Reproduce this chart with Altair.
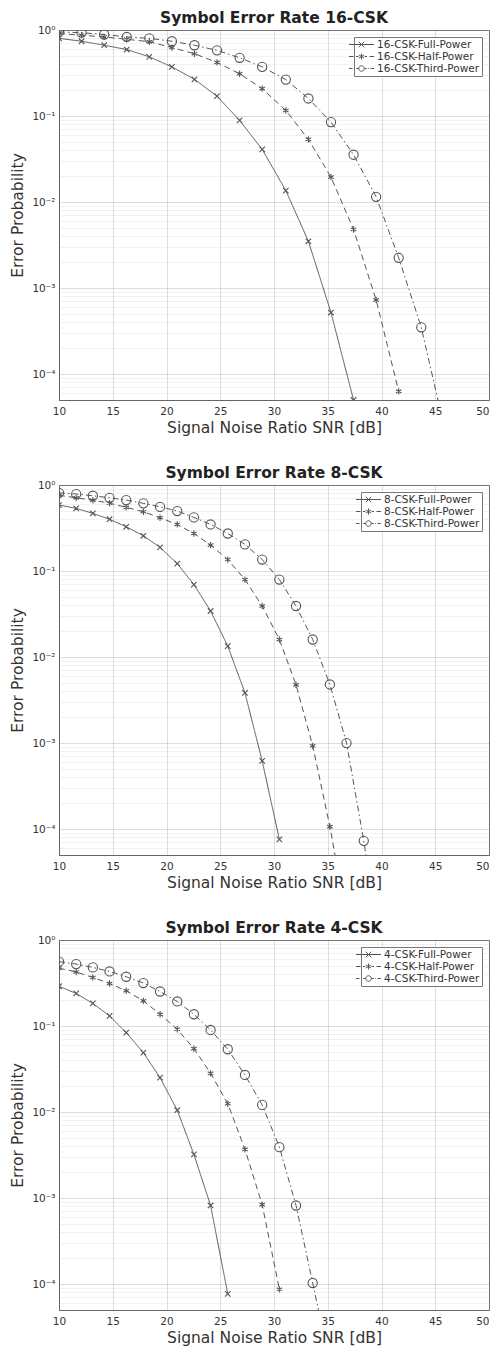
import altair as alt
import pandas as pd

# ---------------- data ----------------
SNR_16 = [10.0, 12.1, 14.2, 16.3, 18.4, 20.5, 22.6, 24.7, 26.8, 28.9,
          31.1, 33.2, 35.3, 37.4, 39.5, 41.6, 43.7, 45.8]
SNR_8 = [10.0, 11.6, 13.15, 14.7, 16.25, 17.85, 19.4, 21.0, 22.55, 24.1,
         25.7, 27.3, 28.9, 30.5, 32.05, 33.6, 35.2, 36.75, 38.35, 39.9]
SNR_4 = SNR_8

P16_FULL = [0.80, 0.74, 0.665, 0.593, 0.488, 0.373, 0.267, 0.170, 0.089, 0.041,
            0.0136, 0.0035, 5.2e-4, 5.0e-5]
P16_HALF = [0.91, 0.87, 0.83, 0.78, 0.73, 0.625, 0.53, 0.42, 0.31, 0.208,
            0.116, 0.0535, 0.0195, 0.0048, 7.3e-4, 6.3e-5]
P16_THIRD = [0.95, 0.93, 0.887, 0.83, 0.80, 0.74, 0.665, 0.58, 0.475, 0.373,
             0.265, 0.16, 0.085, 0.0355, 0.0115, 0.00225, 3.5e-4, 2.5e-5]

P8_FULL = [0.585, 0.535, 0.468, 0.40, 0.327, 0.257, 0.188, 0.122, 0.0696, 0.0343,
           0.0134, 0.00383, 6.2e-4, 7.6e-5]
P8_HALF = [0.76, 0.71, 0.665, 0.615, 0.55, 0.489, 0.416, 0.348, 0.273, 0.20,
           0.136, 0.0796, 0.0392, 0.016, 0.00475, 9.3e-4, 1.07e-4, 9e-6]
P8_THIRD = [0.81, 0.785, 0.75, 0.71, 0.668, 0.612, 0.558, 0.498, 0.42, 0.348,
            0.273, 0.204, 0.136, 0.0796, 0.0392, 0.016, 0.0048, 1.0e-3, 7.3e-5, 4e-6]

P4_FULL = [0.29, 0.239, 0.183, 0.131, 0.084, 0.049, 0.0251, 0.0105, 0.00322, 8.2e-4,
           7.7e-5]
P4_HALF = [0.47, 0.425, 0.367, 0.312, 0.257, 0.196, 0.137, 0.0918, 0.0546, 0.0282,
           0.0125, 0.00368, 8.4e-4, 8.7e-5]
P4_THIRD = [0.56, 0.525, 0.48, 0.431, 0.374, 0.316, 0.252, 0.193, 0.137, 0.090,
            0.0537, 0.027, 0.0121, 0.00391, 8.2e-4, 1.03e-4, 1.2e-5]

PANELS = [
    ("Symbol Error Rate 16-CSK", "16-CSK", SNR_16, [P16_FULL, P16_HALF, P16_THIRD]),
    ("Symbol Error Rate 8-CSK", "8-CSK", SNR_8, [P8_FULL, P8_HALF, P8_THIRD]),
    ("Symbol Error Rate 4-CSK", "4-CSK", SNR_4, [P4_FULL, P4_HALF, P4_THIRD]),
]
SUFFIXES = ["Full-Power", "Half-Power", "Third-Power"]
X_TICKS = [10, 15, 20, 25, 30, 35, 40, 45, 50]
Y_DECADES = [1e-4, 1e-3, 1e-2, 1e-1, 1.0]
Y_MINOR_FACTORS = [2, 3, 4, 5, 6, 7, 8, 9]

# ---------------- styling ----------------
FONT = "DejaVu Sans"
GRAY = "#555555"
DASHES = [[1, 0], [6, 4], [6, 3, 1.5, 3]]
MARKERS = [
    "M-1,-1L1,1M-1,1L1,-1",                               # x
    "M0,-1L0,1M-0.87,-0.5L0.87,0.5M-0.87,0.5L0.87,-0.5",  # asterisk
    "circle",
]
MARKER_SIZES = [30, 40, 85]
# legend symbols: short line segment with the series marker (size 100 -> unit = 5px)
LEGEND_PATHS = [
    "M-2.5,0H2.5M-0.55,-0.55L0.55,0.55M-0.55,0.55L0.55,-0.55",
    "M-2.5,0H-1.6M-1.1,0H-0.6M0.6,0H1.1M1.6,0H2.5"
    "M0,-0.6L0,0.6M-0.52,-0.3L0.52,0.3M-0.52,0.3L0.52,-0.3",
    "M-2.5,0H-1.8M-1.5,0H-1.35M-1.05,0H-0.55M0.55,0H1.05M1.35,0H1.5M1.8,0H2.5"
    "M0.55,0A0.55,0.55 0 1,1 -0.55,0A0.55,0.55 0 1,1 0.55,0Z",
]

y_ticks = sorted(set([round(m * 10.0 ** e, 12) for e in range(-5, 1)
                      for m in [1] + Y_MINOR_FACTORS if 4.9e-5 <= m * 10.0 ** e <= 1.0]))
EXP = "log(datum.value)/LN10"
IS_DECADE = f"abs({EXP} - round({EXP})) < 1e-6"
SUP = {0: "10⁰", -1: "10⁻¹", -2: "10⁻²", -3: "10⁻³", -4: "10⁻⁴"}
label_expr = f"!({IS_DECADE}) ? '' : " + " : ".join(
    f"round({EXP}) == {k} ? '{v}'" for k, v in SUP.items()) + " : ''"

x_enc = alt.X("snr:Q", scale=alt.Scale(domain=[10, 50], nice=False, zero=False),
              axis=alt.Axis(title="Signal Noise Ratio SNR [dB]", values=X_TICKS,
                            labelFlush=False, ticks=False, labelPadding=6,
                            labelAlign={"condition": {"test": "datum.value >= 50", "value": "right"},
                                        "value": "center"},
                            titlePadding=3.5, gridOpacity=0.13))
y_enc = alt.Y("p:Q", scale=alt.Scale(type="log", domain=[5e-5, 1], nice=False),
              axis=alt.Axis(title="Error Probability", values=y_ticks,
                            labelExpr=label_expr, labelOverlap=False, ticks=False,
                            labelPadding=4, titlePadding=6, labelFlush=False,
                            gridOpacity={"condition": {"test": IS_DECADE, "value": 0.13},
                                         "value": 0.05}))


def panel(title, prefix, snr, series):
    labels = [f"{prefix}-{s}" for s in SUFFIXES]
    layers = []
    frames = []
    for i, vals in enumerate(series):
        df = pd.DataFrame({"snr": snr[:len(vals)], "p": vals, "series": labels[i]})
        frames.append(df)
        layers.append(alt.Chart(df).mark_line(clip=True, color=GRAY, strokeWidth=1,
                                              strokeDash=DASHES[i]).encode(x=x_enc, y=y_enc))
        layers.append(alt.Chart(df).mark_point(clip=True, shape=MARKERS[i], size=MARKER_SIZES[i],
                                               filled=False, color=GRAY, strokeWidth=1.1,
                                               opacity=1).encode(x=x_enc, y=y_enc))
    all_df = pd.concat(frames)
    legend_layer = alt.Chart(all_df).mark_point(clip=True, opacity=0, filled=False,
                                                color=GRAY).encode(
        x=x_enc, y=y_enc,
        shape=alt.Shape("series:N",
                        scale=alt.Scale(domain=labels, range=LEGEND_PATHS),
                        legend=alt.Legend(title=None, orient="top-right", offset=7,
                                          padding=2, strokeColor="#777777",
                                          fillColor="white", labelFont=FONT,
                                          labelFontSize=10.5, labelColor="#333333",
                                          symbolSize=100, symbolStrokeColor=GRAY,
                                          symbolStrokeWidth=1, symbolOpacity=1,
                                          symbolFillColor="transparent",
                                          labelOffset=10, rowPadding=1,
                                          labelLimit=200)))
    layers.append(legend_layer)
    return alt.layer(*layers).properties(
        width=430, height=370,
        title=alt.TitleParams(title, font=FONT, fontSize=15.5, fontWeight="bold",
                              color="#222222", anchor="middle", offset=-1.5))


charts = [panel(*p) for p in PANELS]
chart = alt.vconcat(*charts, spacing=29).resolve_scale(shape="independent").resolve_legend(
    shape="independent").properties(padding={"left": 2, "top": 2, "right": 0, "bottom": 0}).configure_axis(
    labelFont=FONT, titleFont=FONT, labelFontSize=10.5, titleFontSize=15.5,
    labelColor="#333333", titleColor="#333333", titleFontWeight="normal",
    domainColor="#666666", gridColor="#000000").configure_view(stroke="#888888", strokeWidth=1)

chart.save("out.html", embed_options={"renderer": "svg", "actions": False})
